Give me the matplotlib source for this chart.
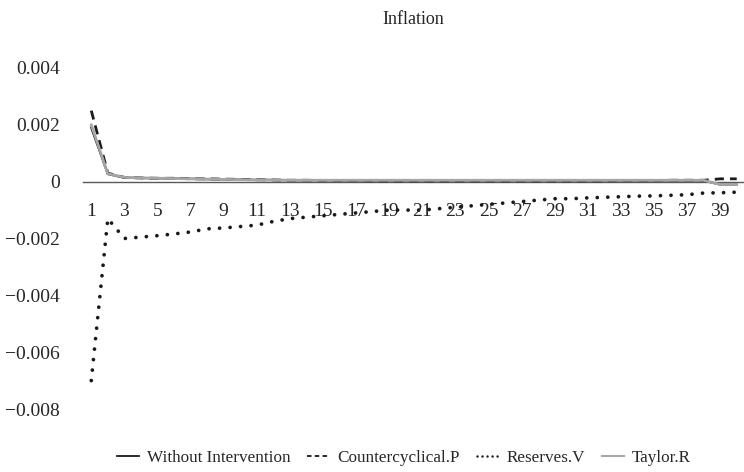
import matplotlib
matplotlib.use("Agg")
import matplotlib.pyplot as plt
import numpy as np

plt.rcParams['font.family'] = ['Liberation Serif', 'DejaVu Serif']

# periods 1..40
periods = list(range(1, 41))

without_int = [0.0019, 0.00027, 0.00014, 0.00013, 0.00012, 0.00011, 0.0001, 0.00009,
               0.00008, 0.00007, 0.00006, 0.00006, 0.00005, 0.00005, 0.00005, 0.00004,
               0.00004, 0.00004, 0.00004, 0.00004, 0.00004, 0.00004, 0.00004, 0.00004,
               0.00004, 0.00004, 0.00004, 0.00004, 0.00004, 0.00004, 0.00004, 0.00004,
               0.00004, 0.00004, 0.00004, 0.00004, 0.00004, 0.00004, -0.0001, -0.0001]

countercyclical = [0.0025, 0.0003, 0.00015, 0.00013, 0.00012, 0.00012, 0.0001, 0.0001,
                   0.00009, 0.00008, 0.00007, 0.00006, 0.00005, 0.00005, 0.00004, 0.00004,
                   0.00004, 0.00003, 0.00003, 0.00003, 0.00003, 0.00003, 0.00003, 0.00003,
                   0.00003, 0.00003, 0.00003, 0.00003, 0.00003, 0.00003, 0.00003, 0.00003,
                   0.00004, 0.00004, 0.00004, 0.00005, 0.00005, 0.00005, 0.0001, 0.0001]

reserves = [-0.0070, -0.0013, -0.0020, -0.00195, -0.0019, -0.00184, -0.00177, -0.00166,
            -0.00163, -0.00158, -0.00153, -0.0014, -0.0013, -0.00125, -0.0012, -0.00115,
            -0.0011, -0.00105, -0.001, -0.001, -0.001, -0.00095, -0.0009, -0.00085,
            -0.0008, -0.00075, -0.0007, -0.00065, -0.0006, -0.0006, -0.00057, -0.00055,
            -0.00053, -0.00051, -0.0005, -0.00048, -0.00046, -0.0004, -0.00039, -0.00037]

taylor = [0.0020, 0.00028, 0.00015, 0.00013, 0.00012, 0.00011, 0.0001, 0.00009,
          0.00008, 0.00007, 0.00006, 0.00006, 0.00005, 0.00005, 0.00005, 0.00005,
          0.00005, 0.00005, 0.00005, 0.00005, 0.00005, 0.00005, 0.00005, 0.00005,
          0.00005, 0.00005, 0.00005, 0.00005, 0.00005, 0.00005, 0.00005, 0.00005,
          0.00005, 0.00005, 0.00005, 0.00005, 0.00005, 0.00005, -0.0001, -0.0001]

y_ticks = [0.004, 0.002, 0, -0.002, -0.004, -0.006, -0.008]
y_labels = ['0.004', '0.002', '0', '\u22120.002', '\u22120.004', '\u22120.006', '\u22120.008']

fig = plt.figure(figsize=(7.44, 4.72), dpi=100)
ax = fig.add_axes([83/744, 1 - 409/472, 662/744, (409 - 68)/472])

ax.plot(periods, without_int, color='#1a1a1a', lw=1.6, label='Without Intervention')
ax.plot(periods, countercyclical, color='#1a1a1a', lw=2.0, linestyle=(0, (3.3, 2.2)),
        label='Countercyclical.P')
ax.plot(periods, reserves, color='#1a1a1a', lw=2.7, linestyle=(0, (0.01, 2.8)),
        dash_capstyle='round', label='Reserves.V')
ax.plot(periods, taylor, color='#a6a6a6', lw=2.0, label='Taylor.R')

ax.set_xlim(0.5, 40.5)
ax.set_ylim(-0.008, 0.004)
ax.set_xticks(periods[::2])
ax.set_xticklabels([str(p) for p in periods[::2]])
ax.set_yticks(y_ticks)
ax.set_yticklabels(y_labels)

for s in ['top', 'right', 'left']:
    ax.spines[s].set_visible(False)
ax.spines['bottom'].set_position(('data', 0))
ax.spines['bottom'].set_color('#595959')
ax.spines['bottom'].set_linewidth(1.0)
ax.spines['bottom'].set_zorder(0)

ax.tick_params(axis='x', length=0, pad=15, labelsize=14, labelcolor='#262626')
ax.tick_params(axis='y', length=0, pad=16.5, labelsize=14, labelcolor='#262626')

fig.text(413/744, 1 - 20/472, 'Inflation', ha='center', va='center',
         fontsize=13, color='#262626')

leg = fig.legend(loc='center', bbox_to_anchor=(404/744, 1 - 458/472), ncol=4, frameon=False,
                 fontsize=12.3, handlelength=1.3, columnspacing=1.0, handletextpad=0.45,
                 labelcolor='#262626')
lines = leg.get_lines()
lines[0].set_linewidth(1.3)
lines[1].set_linewidth(1.3)
lines[1].set_linestyle((0, (2.5, 1.8)))
lines[2].set_linewidth(1.8)
lines[2].set_linestyle((0, (0.01, 2.0)))
lines[2].set_dash_capstyle('round')
lines[3].set_linewidth(1.5)

fig.savefig('out.png', dpi=100)
